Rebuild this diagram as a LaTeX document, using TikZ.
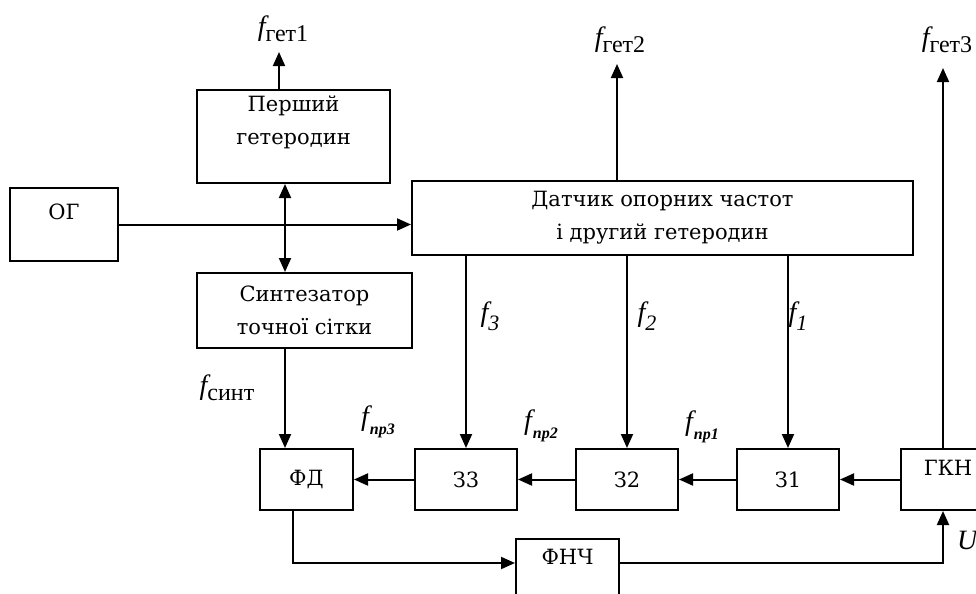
\documentclass[tikz,border=0pt]{standalone}
\usepackage{fontspec}
\setmainfont{DejaVu Serif}
\newfontfamily\labfont{Liberation Serif}
\usetikzlibrary{arrows.meta, positioning}

\newcommand{\fget}[1]{{\labfont\itshape f}\raisebox{-0.5ex}{\labfont\fontsize{12}{12}\selectfont #1}}
\newcommand{\fpr}[1]{{\labfont\itshape f}\kern0.5pt\raisebox{-0.7ex}{\labfont\fontsize{8}{8}\selectfont\bfseries\itshape пр#1}}
\newcommand{\fnum}[1]{{\labfont\itshape f}\raisebox{-0.7ex}{\labfont\fontsize{11}{11}\selectfont\itshape #1}}

\begin{document}
\begin{tikzpicture}[x=0.5pt, y=-0.5pt,
  block/.style={rectangle, draw, line width=1pt, inner sep=2pt, align=center, font=\fontsize{10.5}{16.5}\selectfont},
  txt/.style={align=center, font=\fontsize{10.5}{16.5}\selectfont},
  lab/.style={inner sep=1pt, font=\labfont\fontsize{14}{14}\selectfont},
  arrow/.style={-{Triangle[length=7pt, width=6pt]}, line width=1pt},
  darrow/.style={{Triangle[length=7pt, width=6pt]}-{Triangle[length=7pt, width=6pt]}, line width=1pt}
]
\useasboundingbox (0,0) rectangle (976,594);
\clip (0,0) rectangle (976,594);

% blocks
\node[block, minimum width=54pt, minimum height=36.5pt, label={[txt, yshift=6.25pt]center:ОГ}] (og) at (64,224.5) {};
\node[block, minimum width=96.5pt, minimum height=46.5pt, label={[txt, yshift=7.25pt]center:Перший\\гетеродин}] (per) at (293.5,136.5) {};
\node[block, minimum width=107.5pt, minimum height=37.5pt] (sint) at (304.5,310.5) {Синтезатор\\точної сітки};
\node[block, minimum width=250.5pt, minimum height=37pt] (dat) at (662.5,218) {Датчик опорних частот\\і другий гетеродин};
\node[block, minimum width=46.5pt, minimum height=30.5pt] (fd) at (306.5,479.5) {ФД};
\node[block, minimum width=51pt, minimum height=30.5pt, right=30pt of fd] (z3) {З3};
\node[block, minimum width=51pt, minimum height=30.5pt, right=28.5pt of z3] (z2) {З2};
\node[block, minimum width=51pt, minimum height=30.5pt, right=28.5pt of z2] (z1) {З1};
\node[block, minimum width=47pt, minimum height=30.5pt, right=30pt of z1, label={[txt, yshift=5.75pt]center:ГКН}] (gkn) {};
\node[block, minimum width=51.5pt, minimum height=50pt, label={[txt, yshift=16pt]center:ФНЧ}] (fnch) at (567.5,589) {};

\coordinate (bus) at (285,0);
\coordinate (g1) at (279,52);
\coordinate (g2) at (617,64);
\coordinate (g3) at (943,68);

% connectors
\draw[arrow] (per.north -| g1) -- (g1);
\draw[arrow] (dat.north -| g2) -- (g2);
\draw[arrow] (gkn.north -| g3) -- (g3);
\draw[arrow] (og) -- (og -| dat.west);
\draw[darrow] (per.south -| bus) -- (sint.north -| bus);
\draw[arrow] (sint.south -| bus) -- (fd.north -| bus);
\draw[arrow] (dat.south -| z3) -- (z3);
\draw[arrow] (dat.south -| z2) -- (z2);
\draw[arrow] (dat.south -| z1) -- (z1);
\draw[arrow] (gkn) -- (z1);
\draw[arrow] (z1) -- (z2);
\draw[arrow] (z2) -- (z3);
\draw[arrow] (z3) -- (fd);
\draw[arrow] ([xshift=-6.75pt]fd.south) |- ([yshift=13pt]fnch.west);
\draw[arrow] ([yshift=13pt]fnch.east) -| (gkn.south -| g3);

% signal labels
\node[lab] (lg1) at (283,29) {\fget{гет1}};
\node[lab] (lg2) at (620,40) {\fget{гет2}};
\node[lab] (lg3) at (947,40) {\fget{гет3}};
\node[lab] (lsint) at (227,388) {\fget{синт}};
\node[lab] (lpr3) at (378,422) {\fpr{3}};
\node[lab] (lpr2) at (541,426) {\fpr{2}};
\node[lab] (lpr1) at (702,427) {\fpr{1}};
\node[lab] (lf3) at (490,316) {\fnum{3}};
\node[lab] (lf2) at (647,316) {\fnum{2}};
\node[lab] (lf1) at (798,316) {\fnum{1}};
\node[lab] (lu) at (968,540) {\textit{U}};
\end{tikzpicture}
\end{document}
